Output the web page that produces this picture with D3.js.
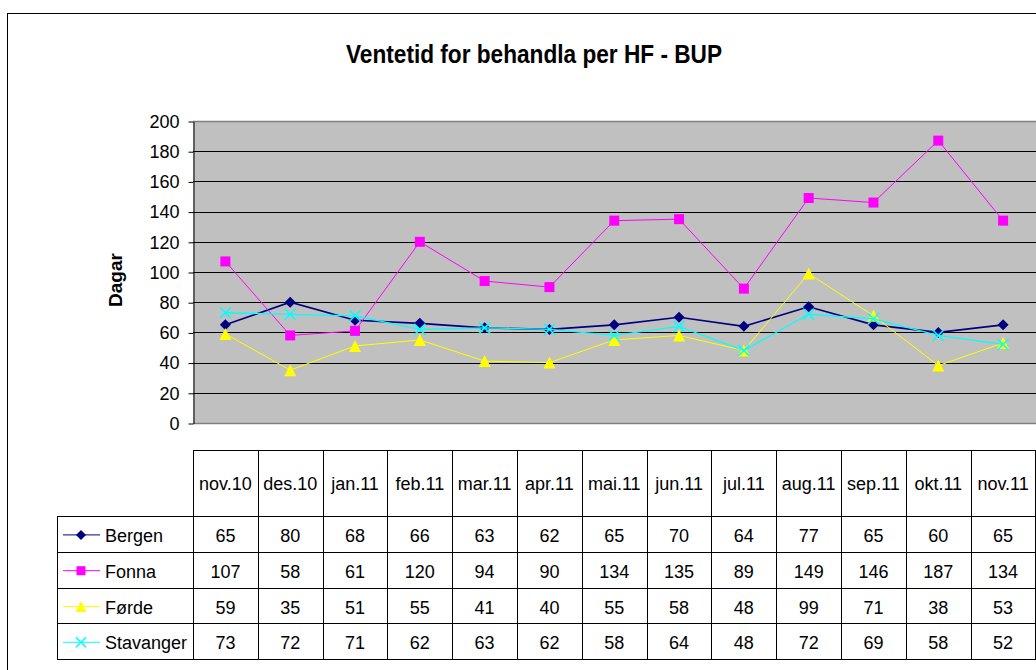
<!DOCTYPE html>
<html>
<head>
<meta charset="utf-8">
<script src="https://cdn.jsdelivr.net/npm/d3@7"></script>
<style>
  body { margin: 0; background: #fff; }
  text { font-family: "Liberation Sans", Arial, sans-serif; fill: #000; }
</style>
</head>
<body>
<script>
// months along the x axis / table header
let months = ["nov.10", "des.10", "jan.11", "feb.11", "mar.11", "apr.11", "mai.11",
              "jun.11", "jul.11", "aug.11", "sep.11", "okt.11", "nov.11"];

let bergen    = [65, 80, 68, 66, 63, 62, 65, 70, 64, 77, 65, 60, 65];
let fonna     = [107, 58, 61, 120, 94, 90, 134, 135, 89, 149, 146, 187, 134];
let forde     = [59, 35, 51, 55, 41, 40, 55, 58, 48, 99, 71, 38, 53];
let stavanger = [73, 72, 71, 62, 63, 62, 58, 64, 48, 72, 69, 58, 52];

let yTicks = [0, 20, 40, 60, 80, 100, 120, 140, 160, 180, 200];

let series = [
    {name: "Bergen", values: bergen, color: "#000080", marker: "diamond", width: 1.6},
    {name: "Fonna", values: fonna, color: "#FF00FF", marker: "square", width: 1},
    {name: "Førde", values: forde, color: "#FFFF00", marker: "triangle", width: 1},
    {name: "Stavanger", values: stavanger, color: "#00FFFF", marker: "cross", width: 1.3}
];

let outerWidth = 1036;
let outerHeight = 670;

let plot = {left: 193, right: 1035.5, top: 121, bottom: 423};

let svg = d3.select("body")
    .append("svg")
    .attr("width", outerWidth)
    .attr("height", outerHeight);

// chart frame (runs off the right and bottom edge)
svg.append("rect")
    .attr("x", 7.5)
    .attr("y", 13.5)
    .attr("width", 1100)
    .attr("height", 700)
    .attr("fill", "#fff")
    .attr("stroke", "#000")
    .attr("stroke-width", 1);

let xScale = d3.scaleBand()
    .domain(months)
    .range([plot.left, plot.right])
    .paddingInner(0)
    .paddingOuter(0);

let yScale = d3.scaleLinear()
    .domain([0, 200])
    .range([plot.bottom, plot.top]);

// title
svg.append("text")
    .attr("x", 534)
    .attr("y", 63)
    .attr("text-anchor", "middle")
    .attr("font-weight", "bold")
    .attr("font-size", 25)
    .attr("textLength", 376)
    .attr("lengthAdjust", "spacingAndGlyphs")
    .text("Ventetid for behandla per HF - BUP");

// plot background
svg.append("rect")
    .attr("x", plot.left)
    .attr("y", plot.top)
    .attr("width", 900)
    .attr("height", plot.bottom - plot.top)
    .attr("fill", "#C0C0C0");

// gridlines
svg.append("g")
    .selectAll("line")
    .data(yTicks.filter(function(d) { return d > 0 && d < 200; }))
    .enter()
    .append("line")
    .attr("x1", plot.left)
    .attr("x2", outerWidth)
    .attr("y1", function(d) { return Math.round(yScale(d)) + 0.5; })
    .attr("y2", function(d) { return Math.round(yScale(d)) + 0.5; })
    .attr("stroke", "#000")
    .attr("stroke-width", 1);

// plot area top / bottom border
[0, 200].forEach(function(v) {
    svg.append("line")
        .attr("x1", plot.left)
        .attr("x2", outerWidth)
        .attr("y1", Math.round(yScale(v)) + 0.5)
        .attr("y2", Math.round(yScale(v)) + 0.5)
        .attr("stroke", "#808080")
        .attr("stroke-width", 1.5);
});

// y axis
let yAxis = d3.axisLeft(yScale)
    .tickValues(yTicks)
    .tickSize(5)
    .tickSizeOuter(0)
    .tickPadding(9);

let yAxisG = svg.append("g")
    .attr("transform", "translate(" + (plot.left + 0.5) + ",0.5)")
    .call(yAxis);
yAxisG.select(".domain").attr("stroke", "#000");
yAxisG.selectAll(".tick line").attr("stroke", "#000");
yAxisG.selectAll(".tick text")
    .attr("font-size", 18)
    .attr("font-family", "Liberation Sans, Arial, sans-serif")
    .attr("fill", "#000");

// y axis title
svg.append("text")
    .attr("transform", "translate(122,280) rotate(-90)")
    .attr("text-anchor", "middle")
    .attr("font-weight", "bold")
    .attr("font-size", 19)
    .text("Dagar");

function xCenter(m) {
    return xScale(m) + xScale.bandwidth() / 2;
}

function drawMarker(g, type, color, size) {
    let s = size / 2;
    if (type === "diamond") {
        g.append("path")
            .attr("d", "M0," + (-s) + "L" + s + ",0L0," + s + "L" + (-s) + ",0Z")
            .attr("fill", color);
    } else if (type === "square") {
        g.append("rect")
            .attr("x", -s).attr("y", -s)
            .attr("width", size).attr("height", size)
            .attr("fill", color);
    } else if (type === "triangle") {
        g.append("path")
            .attr("d", "M0," + (-s) + "L" + s + "," + s + "L" + (-s) + "," + s + "Z")
            .attr("fill", color);
    } else if (type === "cross") {
        g.append("path")
            .attr("d", "M" + (-s) + "," + (-s) + "L" + s + "," + s + "M" + s + "," + (-s) + "L" + (-s) + "," + s)
            .attr("stroke", color)
            .attr("stroke-width", 1.5)
            .attr("fill", "none");
    }
}

let markerSize = {diamond: 11, square: 10, triangle: 12, cross: 11};

let lineGenerator = d3.line()
    .x(function(d, i) { return xCenter(months[i]); })
    .y(function(d) { return yScale(d); });

// draw lines and markers
series.forEach(function(s) {
    svg.append("path")
        .attr("d", lineGenerator(s.values))
        .attr("stroke", s.color)
        .attr("stroke-width", s.width)
        .attr("fill", "none");

    s.values.forEach(function(v, i) {
        let g = svg.append("g")
            .attr("transform", "translate(" + xCenter(months[i]) + "," + yScale(v) + ")");
        drawMarker(g, s.marker, s.color, markerSize[s.marker]);
    });
});

// data table
let table = {left: 57, headerTop: 450, headerBottom: 516, rowH: 35.8};
let tableG = svg.append("g").attr("class", "table");
let tableBottom = table.headerBottom + table.rowH * series.length;

// horizontal lines
tableG.append("line")
    .attr("x1", plot.left).attr("x2", outerWidth)
    .attr("y1", table.headerTop + 0.5).attr("y2", table.headerTop + 0.5)
    .attr("stroke", "#000");
for (let r = 0; r <= series.length; r++) {
    let y = Math.round(table.headerBottom + table.rowH * r) + 0.5;
    tableG.append("line")
        .attr("x1", table.left).attr("x2", outerWidth)
        .attr("y1", y).attr("y2", y)
        .attr("stroke", "#000");
}

// vertical lines
tableG.append("line")
    .attr("x1", table.left + 0.5).attr("x2", table.left + 0.5)
    .attr("y1", table.headerBottom).attr("y2", tableBottom)
    .attr("stroke", "#000");
months.forEach(function(m, i) {
    let x = Math.round(xScale(m)) + 0.5;
    tableG.append("line")
        .attr("x1", x).attr("x2", x)
        .attr("y1", table.headerTop).attr("y2", tableBottom)
        .attr("stroke", "#000");
});
tableG.append("line")
    .attr("x1", Math.round(plot.right) - 0.5).attr("x2", Math.round(plot.right) - 0.5)
    .attr("y1", table.headerTop).attr("y2", tableBottom)
    .attr("stroke", "#000");

// header labels
tableG.selectAll(".monthLabel")
    .data(months)
    .enter()
    .append("text")
    .attr("class", "monthLabel")
    .attr("x", function(d) { return xCenter(d); })
    .attr("y", 490)
    .attr("text-anchor", "middle")
    .attr("font-size", 18)
    .text(function(d) { return d; });

// rows
series.forEach(function(s, r) {
    let yMid = table.headerBottom + table.rowH * (r + 0.5);

    // legend key
    tableG.append("line")
        .attr("x1", 63).attr("x2", 100)
        .attr("y1", yMid + 1).attr("y2", yMid + 1)
        .attr("stroke", s.color)
        .attr("stroke-width", 1);
    let g = tableG.append("g").attr("transform", "translate(81," + (yMid + 1) + ")");
    drawMarker(g, s.marker, s.color, markerSize[s.marker] - 1);

    tableG.append("text")
        .attr("x", 105)
        .attr("y", yMid + 8)
        .attr("font-size", 18)
        .text(s.name);

    s.values.forEach(function(v, i) {
        tableG.append("text")
            .attr("x", xCenter(months[i]))
            .attr("y", yMid + 8)
            .attr("text-anchor", "middle")
            .attr("font-size", 18)
            .text(v);
    });
});
</script>
</body>
</html>
